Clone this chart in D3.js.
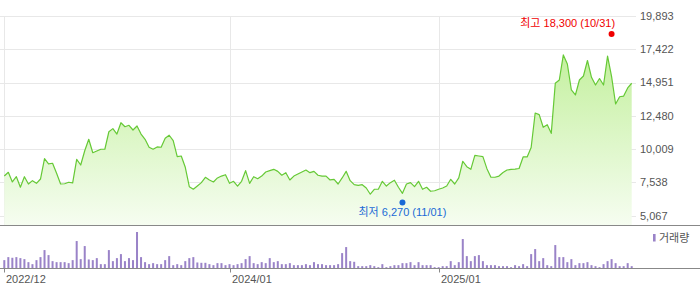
<!DOCTYPE html>
<html>
<head>
<meta charset="utf-8">
<script src="https://cdn.jsdelivr.net/npm/d3@7"></script>
<style>
  body { margin: 0; background: #fff; }
  svg { display: block; font-family: "Liberation Sans", "Noto Sans CJK KR", sans-serif; }
</style>
</head>
<body>
<svg id="chart" width="700" height="289"></svg>
<script>
// weekly closing prices, first week 2022-12-09
const closePrices = [
  8010, 8290, 7570, 7960, 7180, 7960, 7420, 7670, 7470, 7790,
  9300, 8910, 8960, 8220, 7420, 7440, 7550, 7500, 9250, 8830,
  9890, 10740, 9740, 9870, 10000, 10000, 11300, 11530, 11130, 11970,
  11670, 11780, 11430, 11730, 11130, 10740, 10150, 10000, 10170, 10150,
  10810, 11040, 10640, 9450, 9500, 8660, 7220, 7030, 7270, 7520,
  7920, 7720, 7570, 7870, 8010, 8110, 7470, 7620, 7270, 7620,
  8410, 7470, 7960, 7810, 8010, 8310, 8410, 8510, 8360, 8070,
  8260, 7720, 8010, 8160, 8310, 8460, 8260, 8360, 8070, 8010,
  8010, 7720, 7770, 7420, 7870, 8360, 7670, 7370, 7320, 7370,
  7120, 6660, 7030, 7030, 7620, 7270, 7520, 7700, 7180, 6730,
  7420, 7520, 7220, 7620, 7030, 7180, 6880, 6920, 7030, 7120,
  7270, 7770, 7420, 7870, 9110, 8710, 8510, 9550, 9500, 9450,
  8560, 7920, 7920, 8010, 8270, 8460, 8500, 8530, 8570, 9430,
  9430, 10130, 12690, 12570, 11630, 11820, 11180, 14900, 15140, 17000,
  16330, 14400, 14030, 15140, 15440, 16590, 15340, 14770, 15250, 14770,
  16920, 15390, 13360, 13900, 13950, 14550, 14900
];

// weekly volume (shares)
const volumes = [
  250000, 340000, 320000, 340000, 310000, 280000, 190000, 130000, 250000, 340000,
  550000, 400000, 220000, 190000, 190000, 190000, 160000, 250000, 820000, 280000,
  670000, 270000, 250000, 310000, 130000, 130000, 550000, 220000, 310000, 430000,
  220000, 310000, 250000, 1090000, 340000, 190000, 130000, 160000, 130000, 130000,
  250000, 370000, 100000, 130000, 100000, 220000, 310000, 340000, 180000, 170000,
  170000, 130000, 100000, 160000, 160000, 100000, 130000, 100000, 130000, 160000,
  280000, 370000, 160000, 130000, 190000, 160000, 310000, 190000, 220000, 130000,
  130000, 160000, 100000, 100000, 100000, 130000, 100000, 190000, 130000, 130000,
  100000, 100000, 100000, 130000, 460000, 640000, 220000, 200000, 70000, 70000,
  70000, 100000, 70000, 40000, 130000, 40000, 70000, 100000, 100000, 160000,
  160000, 190000, 100000, 190000, 100000, 100000, 100000, 40000, 40000, 70000,
  70000, 220000, 100000, 190000, 880000, 370000, 220000, 370000, 400000, 220000,
  100000, 100000, 100000, 70000, 70000, 70000, 40000, 100000, 70000, 130000,
  70000, 430000, 580000, 220000, 310000, 100000, 70000, 700000, 340000, 340000,
  190000, 280000, 100000, 160000, 160000, 190000, 100000, 70000, 40000, 130000,
  220000, 280000, 160000, 70000, 70000, 160000, 70000
];

const yTickValues = [5067, 7538, 10009, 12480, 14951, 17422, 19893];
const monthLabels = ["2022/12", "2024/01", "2025/01"];
const highMark = { date: "2025-10-31", value: 18300, label: "최고 18,300 (10/31)" };
const lowMark = { date: "2024-11-01", value: 6270, label: "최저 6,270 (11/01)" };

const W = 700;
const priceTop = 16, priceBottom = 215.7, paneBottom = 225.5;
const volTop = 232, volBottom = 268.5;

const firstWeek = new Date(2022, 11, 9);
const dates = d3.timeFriday.range(firstWeek, d3.timeFriday.offset(firstWeek, closePrices.length));
const rows = dates.map((d, i) => ({ date: d, close: closePrices[i], volume: volumes[i] }));

const x = d3.scaleTime()
  .domain([dates[0], dates[dates.length - 1]])
  .range([4.3, 631.7]);

const y = d3.scaleLinear()
  .domain([yTickValues[0], yTickValues[yTickValues.length - 1]])
  .range([priceBottom, priceTop]);

const yVol = d3.scaleLinear()
  .domain([0, d3.max(volumes)])
  .range([volBottom, volTop]);

const fmtMonth = d3.timeFormat("%Y/%m");
const tickDates = monthLabels.map(lbl => dates.find(d => fmtMonth(d) === lbl));
const parse = d3.timeParse("%Y-%m-%d");

const svg = d3.select("#chart");

const defs = svg.append("defs");
const grad = defs.append("linearGradient")
  .attr("id", "priceFill")
  .attr("gradientUnits", "userSpaceOnUse")
  .attr("x1", 0).attr("x2", 0)
  .attr("y1", 40).attr("y2", paneBottom);
grad.append("stop").attr("offset", 0).attr("stop-color", "#c0ef98");
grad.append("stop").attr("offset", 1).attr("stop-color", "#f6fdf1");

// gridlines
svg.append("g")
  .selectAll("line")
  .data(yTickValues)
  .join("line")
  .attr("x1", 0).attr("x2", 636)
  .attr("y1", d => Math.round(y(d)) + 0.5)
  .attr("y2", d => Math.round(y(d)) + 0.5)
  .attr("stroke", "#e8e8e8");

svg.append("g")
  .selectAll("line")
  .data(tickDates)
  .join("line")
  .attr("x1", d => Math.round(x(d)) + 0.5)
  .attr("x2", d => Math.round(x(d)) + 0.5)
  .attr("y1", priceTop).attr("y2", paneBottom)
  .attr("stroke", "#e8e8e8");

// price area + line
const area = d3.area()
  .x(d => x(d.date))
  .y0(paneBottom)
  .y1(d => y(d.close));

const line = d3.line()
  .x(d => x(d.date))
  .y(d => y(d.close));

svg.append("path")
  .datum(rows)
  .attr("d", area)
  .attr("fill", "url(#priceFill)");

svg.append("path")
  .datum(rows)
  .attr("d", line)
  .attr("fill", "none")
  .attr("stroke", "#66c936")
  .attr("stroke-width", 1.2)
  .attr("stroke-linejoin", "round");

// y axis labels (right side)
svg.append("g")
  .selectAll("text")
  .data(yTickValues)
  .join("text")
  .attr("x", 640)
  .attr("y", d => y(d))
  .attr("dy", "0.35em")
  .attr("font-size", 11)
  .attr("fill", "#555")
  .text(d => d3.format(",")(d));

// pane separators
svg.append("line")
  .attr("x1", 0).attr("x2", W)
  .attr("y1", paneBottom).attr("y2", paneBottom)
  .attr("stroke", "#888");

// volume bars
svg.append("g")
  .selectAll("rect")
  .data(rows)
  .join("rect")
  .attr("x", d => x(d.date) - 1)
  .attr("width", 2)
  .attr("y", d => yVol(d.volume))
  .attr("height", d => volBottom - yVol(d.volume))
  .attr("fill", "#9a83c8");

svg.append("line")
  .attr("x1", 0).attr("x2", W)
  .attr("y1", volBottom).attr("y2", volBottom)
  .attr("stroke", "#888");

// x ticks + labels
const xt = svg.append("g")
  .selectAll("g")
  .data(tickDates)
  .join("g")
  .attr("transform", d => `translate(${Math.round(x(d)) + 0.5},0)`);
xt.append("line")
  .attr("y1", volBottom).attr("y2", volBottom + 4)
  .attr("stroke", "#888");
xt.append("text")
  .attr("x", 1.5)
  .attr("y", 283)
  .attr("font-size", 11)
  .attr("fill", "#555")
  .text((d, i) => monthLabels[i]);

// volume legend
svg.append("rect")
  .attr("x", 653).attr("y", 234)
  .attr("width", 2.6).attr("height", 7.5)
  .attr("fill", "#9a83c8");
svg.append("text")
  .attr("x", 659).attr("y", 238)
  .attr("dy", "0.35em")
  .attr("font-size", 11)
  .attr("fill", "#555")
  .text("거래량");

// high / low markers
const hx = x(parse(highMark.date)), hy = y(highMark.value) - 3.5;
svg.append("circle").attr("cx", hx).attr("cy", hy).attr("r", 3).attr("fill", "#f00000");
svg.append("text")
  .attr("x", hx + 3.5).attr("y", hy - 10.5)
  .attr("dy", "0.35em")
  .attr("text-anchor", "end")
  .attr("font-size", 11)
  .attr("fill", "#f00000")
  .text(highMark.label);

const lx = x(parse(lowMark.date)), ly = y(lowMark.value) + 3;
svg.append("circle").attr("cx", lx).attr("cy", ly).attr("r", 3).attr("fill", "#1a6ad6");
svg.append("text")
  .attr("x", lx).attr("y", ly + 10)
  .attr("dy", "0.35em")
  .attr("text-anchor", "middle")
  .attr("font-size", 11)
  .attr("fill", "#1a6ad6")
  .text(lowMark.label);
</script>
</body>
</html>
